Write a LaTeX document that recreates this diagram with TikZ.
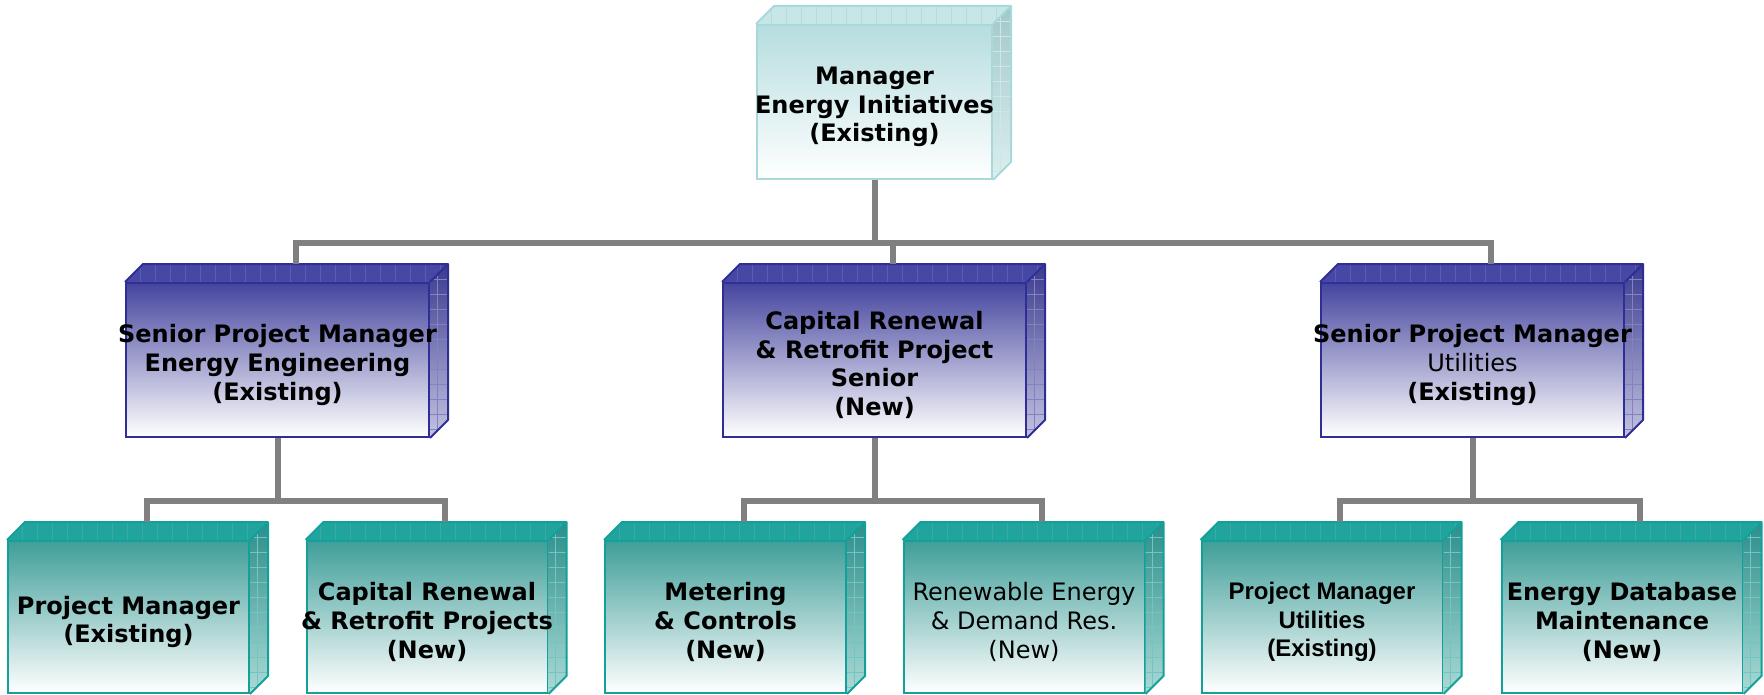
\documentclass[tikz,border=0pt]{standalone}
\usepackage{fontspec}
\setmainfont{DejaVu Sans}
\newfontfamily\arialfont{Liberation Sans}
\usetikzlibrary{calc}
\definecolor{conncolor}{HTML}{808080}
% light
\definecolor{lightline}{HTML}{A8D8DA}
\definecolor{lighttop}{HTML}{C6E6E7}
\definecolor{lightfront}{HTML}{B6DDDF}
\definecolor{lightsideA}{HTML}{A2C8C9}
\definecolor{lightsideB}{HTML}{DDEEEE}
\definecolor{lightgrid}{HTML}{B8DADB}
% blue
\definecolor{blueline}{HTML}{2E2E96}
\definecolor{bluetop}{HTML}{4747A6}
\definecolor{bluefront}{HTML}{45459F}
\definecolor{bluesideA}{HTML}{3A3A8E}
\definecolor{bluesideB}{HTML}{C4C4E2}
\definecolor{bluegrid}{HTML}{5C5CB0}
% teal
\definecolor{tealline}{HTML}{12A09A}
\definecolor{tealtop}{HTML}{22A49E}
\definecolor{tealfront}{HTML}{3F9E99}
\definecolor{tealsideA}{HTML}{2C8E8A}
\definecolor{tealsideB}{HTML}{ACDAD6}
\definecolor{tealgrid}{HTML}{3AAAA4}
\tikzset{
  conn/.style={draw=conncolor, line width=6pt, line join=miter},
  boxtext/.style={inner sep=0pt, align=center}
}
% #1 name #2 x #3 y #4 w #5 h #6 kind #7 font #8 text
\newcommand\orgbox[8]{%
  \node[draw=#6line, line width=2pt, top color=#6front, bottom color=white,
        minimum width=#4pt, minimum height=#5pt, inner sep=0pt] (#1) at (#2,#3) {};
  \coordinate (#1-bnw) at ($(#1.north west)+(18,-18)$);
  \coordinate (#1-bne) at ($(#1.north east)+(18,-18)$);
  \coordinate (#1-bse) at ($(#1.south east)+(18,-18)$);
  \begin{scope}
    \clip (#1.north west) -- (#1-bnw) -- (#1-bne) -- (#1.north east) -- cycle;
    \fill[#6top] (#1.north west) -- (#1-bnw) -- (#1-bne) -- (#1.north east) -- cycle;
    \foreach \k in {15,30,...,345}
      \draw[#6grid, line width=0.8pt] ($(#1.north west)+(\k,0)$) -- ++(0,-20);
  \end{scope}
  \begin{scope}
    \clip (#1.north east) -- (#1-bne) -- (#1-bse) -- (#1.south east) -- cycle;
    \shade[top color=#6sideA, bottom color=#6sideB] (#1.north east) -- (#1-bne) -- (#1-bse) -- (#1.south east) -- cycle;
    \foreach \k in {15,30,...,180}
      \draw[#6line!60, line width=0.7pt] ($(#1.north east)+(-2,-18+\k)$) -- ++(24,0);
    \draw[#6line!60, line width=0.7pt] ($(#1.north east)+(7,-30)$) -- ++(0,200);
  \end{scope}
  \draw[#6line, line width=2pt, line join=round] (#1.north west) -- (#1-bnw) -- (#1-bne) -- (#1-bse) -- (#1.south east);
  \draw[#6line, line width=2pt] (#1.north east) -- (#1-bne);
  \node[boxtext, font=\fontsize{24}{28.7}\selectfont#7] (#1-text) at ($(#1.center)+(0,5)$) {#8};
}
\begin{document}
\begin{tikzpicture}[x=1pt, y=-1pt]
\useasboundingbox (0,0) rectangle (1764,695);
% top
\orgbox{top}{874.5}{102}{235}{154}{light}{\bfseries}{Manager\\Energy Initiatives\\(Existing)}
% middle level
\orgbox{m1}{277.5}{360}{303}{154}{blue}{\bfseries}{Senior Project Manager\\Energy Engineering\\(Existing)}
\orgbox{m2}{874.5}{360}{303}{154}{blue}{\bfseries}{Capital Renewal\\\& Retrofit Project\\Senior\\(New)}
\orgbox{m3}{1472.5}{360}{303}{154}{blue}{}{\textbf{Senior Project Manager}\\Utilities\\\textbf{(Existing)}}
% bottom level
\orgbox{b1}{128.5}{617}{241}{152}{teal}{\bfseries}{Project Manager\\(Existing)}
\orgbox{b2}{427}{617}{241}{152}{teal}{\bfseries}{Capital Renewal\\\& Retrofit Projects\\(New)}
\orgbox{b3}{725.5}{617}{241}{152}{teal}{\bfseries}{Metering\\\& Controls\\(New)}
\orgbox{b4}{1024}{617}{241}{152}{teal}{}{Renewable Energy\\\& Demand Res.\\(New)}
\orgbox{b5}{1322}{617}{241}{152}{teal}{\arialfont\bfseries}{Project Manager\\Utilities\\(Existing)}
\orgbox{b6}{1622}{617}{241}{152}{teal}{\bfseries}{Energy Database\\Maintenance\\(New)}
% connector end points (centre of the back top edge)
\foreach \n in {m1,m2,m3,b1,b2,b3,b4,b5,b6}
  \coordinate (\n t) at ($(\n.north)+(18,-18)$);
% level 1 connectors
\draw[conn] (top.south) -- (top.south |- 0,243);
\draw[conn] (m1t) -- (m1t |- 0,243) -- (m3t |- 0,243) -- (m3t);
\draw[conn] (m2t |- 0,243) -- (m2t);
% level 2 connectors
\draw[conn] (m1.south) -- (m1.south |- 0,501);
\draw[conn] (b1t) -- (b1t |- 0,501) -- (b2t |- 0,501) -- (b2t);
\draw[conn] (m2.south) -- (m2.south |- 0,501);
\draw[conn] (b3t) -- (b3t |- 0,501) -- (b4t |- 0,501) -- (b4t);
\draw[conn] (m3.south) -- (m3.south |- 0,501);
\draw[conn] (b5t) -- (b5t |- 0,501) -- (b6t |- 0,501) -- (b6t);
\end{tikzpicture}
\end{document}
